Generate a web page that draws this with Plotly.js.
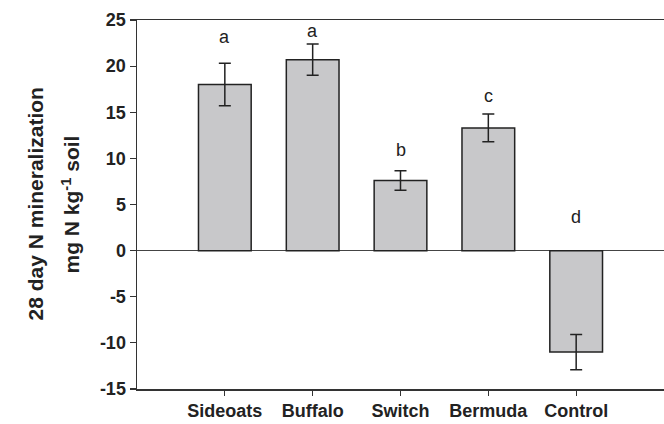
<!DOCTYPE html>
<html>
<head>
<meta charset="utf-8">
<script src="https://cdn.plot.ly/plotly-3.0.1.min.js"></script>
<style>
html,body{margin:0;padding:0;background:#fff;}
#chart{width:664px;height:424px;}
</style>
</head>
<body>
<div id="chart"></div>
<script>
const categories = ["Sideoats", "Buffalo", "Switch", "Bermuda", "Control"];
const values = [18.0, 20.7, 7.6, 13.3, -11.0];
const errors = [2.3, 1.7, 1.05, 1.5, 1.9];
const letters = ["a", "a", "b", "c", "d"];
const letterY = [23.2, 23.8, 10.9, 16.8, 3.6];
const yTicks = [-15, -10, -5, 0, 5, 10, 15, 20, 25];

const idx = categories.map((c, i) => i);

const trace = {
  type: "bar",
  x: idx,
  y: values,
  width: 0.6,
  marker: {color: "#c8c8ca", line: {color: "#222", width: 1.5}},
  error_y: {type: "data", array: errors, visible: true, color: "#222", thickness: 1.5, width: 6},
  hoverinfo: "none"
};

const annotations = letters.map((t, i) => ({
  x: i, y: letterY[i], xref: "x", yref: "y", text: t, showarrow: false,
  font: {family: "Liberation Sans, Arial, sans-serif", size: 18, color: "#222"},
  xanchor: "center", yanchor: "middle"
}));
annotations.push({
  xref: "paper", yref: "paper", x: 0, y: 0.5, xshift: -102, text: "<b>28 day N mineralization</b>",
  textangle: -90, showarrow: false, xanchor: "center", yanchor: "middle",
  font: {family: "Liberation Sans, Arial, sans-serif", size: 21, color: "#222"}
});
annotations.push({
  xref: "paper", yref: "paper", x: 0, y: 0.5, xshift: -67, text: "<b>mg N kg<sup>-1</sup> soil</b>",
  textangle: -90, showarrow: false, xanchor: "center", yanchor: "middle",
  font: {family: "Liberation Sans, Arial, sans-serif", size: 21, color: "#222"}
});

const layout = {
  width: 664, height: 424,
  margin: {l: 137, r: 0, t: 20, b: 35, pad: 0},
  paper_bgcolor: "#fff", plot_bgcolor: "#fff",
  showlegend: false,
  font: {family: "Liberation Sans, Arial, sans-serif", size: 18, color: "#222"},
  xaxis: {
    range: [-1, 5],
    tickvals: idx, ticktext: categories.map(c => "<b>" + c + "</b>"),
    ticks: "outside", ticklen: 5, tickwidth: 1.2, tickcolor: "#333",
    showline: true, linecolor: "#333", linewidth: 1.5, mirror: true,
    showgrid: false, zeroline: false,
    tickfont: {size: 18, color: "#222"}
  },
  yaxis: {
    range: [-15, 25],
    tickvals: yTicks, ticktext: yTicks.map(v => "<b>" + v + "</b>"),
    ticks: "outside", ticklen: 6, tickwidth: 1.2, tickcolor: "#333",
    showline: true, linecolor: "#333", linewidth: 1.5,
    showgrid: false, zeroline: true, zerolinecolor: "#444", zerolinewidth: 1.5,
    tickfont: {size: 18, color: "#222"}
  },
  annotations: annotations
};

Plotly.newPlot("chart", [trace], layout, {displayModeBar: false, staticPlot: true});
</script>
</body>
</html>
